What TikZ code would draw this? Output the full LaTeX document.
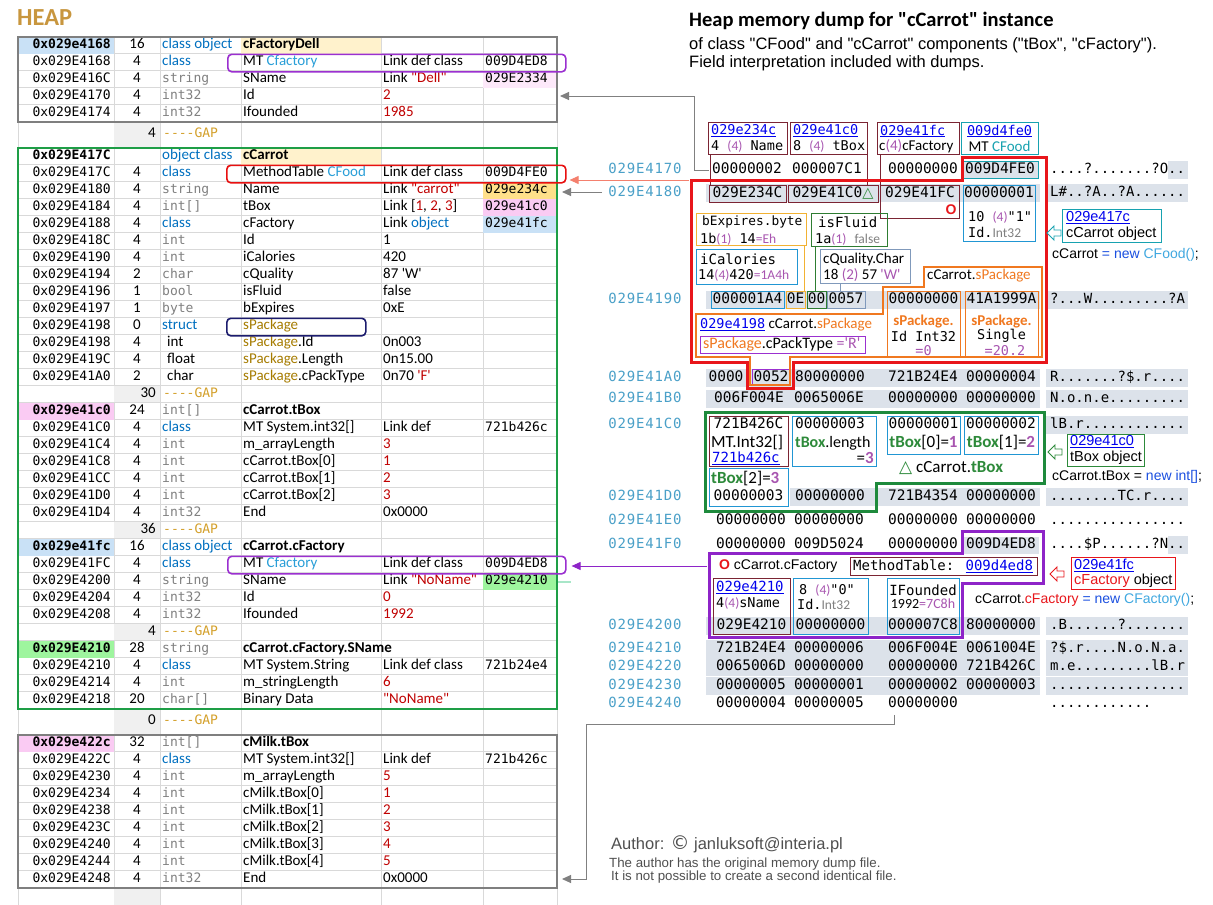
\documentclass[tikz,border=0pt]{standalone}
\usepackage{fontspec}
\setmainfont{Carlito}[Ligatures=TeXOff]
\newfontfamily\mono{DejaVu Sans Mono}
\newfontfamily\dmono[LetterSpace=6]{DejaVu Sans Mono}
\newfontfamily\ari{Liberation Sans}
\newfontfamily\djv{DejaVu Sans}
\usetikzlibrary{arrows.meta}
\definecolor{heapgold}{HTML}{C8963E}
\definecolor{gapgold}{HTML}{D4A02A}
\definecolor{typeblue}{HTML}{0070C0}
\definecolor{typegray}{HTML}{808080}
\definecolor{valred}{HTML}{C00000}
\definecolor{cfblue}{HTML}{2A9FD8}
\definecolor{spgold}{HTML}{A67C00}
\definecolor{cellblue}{HTML}{C9E1F6}
\definecolor{cellpink}{HTML}{FACBF3}
\definecolor{lightpink}{HTML}{FDE9FA}
\definecolor{cellorange}{HTML}{FFE08A}
\definecolor{cellcream}{HTML}{FFF2CC}
\definecolor{cellgreen}{HTML}{9EF59E}
\definecolor{gridgray}{HTML}{D9D9D9}
\definecolor{gapfill}{HTML}{F0F0F0}
\definecolor{bordgray}{HTML}{7F7F7F}
\definecolor{bordgreen}{HTML}{1E9E46}
\definecolor{tpurple}{HTML}{9B30D0}
\definecolor{tred}{HTML}{E81010}
\definecolor{navy}{HTML}{1C1C6E}
\definecolor{maroon}{HTML}{7B2433}
\definecolor{linkblue}{HTML}{0000EE}
\definecolor{magen}{HTML}{A855B0}
\definecolor{tealc}{HTML}{17A2B0}
\definecolor{boxblue}{HTML}{2196D3}
\definecolor{boxyellow}{HTML}{F2B233}
\definecolor{boxgreen}{HTML}{2E7D32}
\definecolor{boxslate}{HTML}{8099BB}
\definecolor{sporange}{HTML}{F07820}
\definecolor{tboxgreen}{HTML}{2D8A3A}
\definecolor{dumpaddr}{HTML}{4AA0C8}
\definecolor{dumpbg}{HTML}{DCE2EA}
\definecolor{codeblue}{HTML}{1A4FE0}
\definecolor{codelight}{HTML}{40A8E0}
\definecolor{authgray}{HTML}{505050}
\definecolor{arrgray}{HTML}{808080}
\definecolor{salmon}{HTML}{F4806E}
\definecolor{bigred}{HTML}{E8161B}
\definecolor{bigpurple}{HTML}{8E24C8}
\definecolor{biggreen}{HTML}{1E8A3C}
\definecolor{stubgreen}{HTML}{A8E6C8}

\newcommand\fsz[1]{\fontsize{#1}{#1}\selectfont}
\newcommand\tb[1]{\textcolor{typeblue}{#1}}
\newcommand\tg[1]{{\mono\fsz{13}\color{typegray}#1}}
\newcommand\vr[1]{\textcolor{valred}{#1}}
\newcommand\spk[1]{\textcolor{spgold}{#1}}
\newcommand\lb[1]{\textcolor{cfblue}{#1}}
\newcommand\lnk[1]{\textcolor{linkblue}{\underline{#1}}}
\newcommand\mg[1]{\textcolor{magen}{#1}}
\newcommand\pr[1]{\textcolor{magen}{\rmfamily #1}}
\newcommand\tbx[1]{\textcolor{tboxgreen}{\textbf{#1}}}
\newcommand\pq[1]{\textcolor{magen}{\textbf{#1}}}
\newcommand\so[1]{\textcolor{sporange}{#1}}
\newcommand\tri{{\djv\bfseries\textcolor{tboxgreen}{△}}}
% one row of the heap table
\newcommand\trow[8]{%
  \node[tadr] (a#1) at (111,#2) {#3};
  \node[tsz] (s#1) at (137,#2) {#4};
  \node[ttxt] (t#1) at (162,#2) {#5};
  \node[ttxt] (n#1) at (243,#2) {#6};
  \node[ttxt] (v#1) at (383,#2) {#7};
  \node[tadr,anchor=west] (x#1) at (485,#2) {#8};}
\newcommand\tgap[3]{%
  \node[tsz,anchor=east] (gs#1) at (156,#2) {#3};
  \node[tadr,anchor=west,text=gapgold] (gt#1) at (163,#2) {----GAP};}
% hollow pointer left of a label box
\newcommand\harr[3]{\draw[#1,line width=0.9pt,line join=miter] (#2,#3) -- ++(7,-7) -- ++(0,4) -- ++(7,0) -- ++(0,6) -- ++(-7,0) -- ++(0,4) -- cycle;}
% ascii column of the dump
\newcommand\asc[3]{\node[ascs] (asc#1) at (1050,#2) {#3};}

\begin{document}
\begin{tikzpicture}[x=1pt,y=-1pt,
  gline/.style={draw=gridgray,line width=0.6pt},
  tadr/.style={font=\mono\fsz{13},anchor=east,inner sep=0,text height=9.5pt,text depth=2.5pt},
  tsz/.style={font=\fsz{15},inner sep=0,text height=10pt,text depth=3pt},
  ttxt/.style={font=\fsz{15},anchor=west,inner sep=0,text height=10pt,text depth=3pt},
  tblk/.style={line width=2pt},
  rbox/.style={draw=#1,rounded corners=4pt,line width=1.6pt,inner sep=0,anchor=north west},
  hex/.style={font=\mono\fsz{14.5},inner sep=0,text height=10.5pt,text depth=3pt},
  hbox/.style={hex,draw=#1,line width=1pt},
  dadr/.style={font=\dmono\fsz{14},text=dumpaddr,inner sep=0,text height=10.5pt,text depth=3pt},
  ascs/.style={font=\mono\fsz{14},anchor=west,inner sep=0,text height=10.5pt,text depth=3pt},
  abox/.style={draw=#1,line width=1pt,inner sep=0,anchor=north west},
  atx/.style={font=\mono\fsz{13.5},anchor=west,inner sep=0},
  ctx/.style={font=\fsz{15},anchor=west,inner sep=0},
  rtx/.style={font=\ari\fsz{14.5},anchor=west,inner sep=0},
  arr/.style={-{Triangle[length=9pt,width=8pt]},line width=1pt},
  big/.style={line width=3pt,line join=miter}]
\useasboundingbox (0,0) rectangle (1213,905);
\fill[white] (0,0) rectangle (1213,905);

% ---------------- heap table
\foreach \x in {18,114,160,241,381,483,557} \draw[gline] (\x,36.5) -- (\x,905);
\foreach \k in {0,...,5} \draw[gline] (18,{36.5+17*\k}) -- (557,{36.5+17*\k});
\foreach \k in {0,...,33} \draw[gline] (18,{147.5+17*\k}) -- (557,{147.5+17*\k});
\foreach \k in {0,...,9} \draw[gline] (18,{734.5+17*\k}) -- (557,{734.5+17*\k});
\foreach \ya/\yb in {121.5/147.5,385.5/402.5,521.5/538.5,623.5/640.5,708.5/734.5,887.5/905}
  \fill[gapfill] (114.3,\ya+0.3) rectangle (159.7,\yb-0.3);
\fill[cellblue] (18,36.5) rectangle (114,53.5);
\fill[cellcream] (241,36.5) rectangle (381,53.5);
\fill[lightpink] (483,70.5) rectangle (557,87.5);
\fill[cellcream] (241,147.5) rectangle (381,164.5);
\fill[cellorange] (483,181.5) rectangle (557,198.5);
\fill[cellpink] (483,198.5) rectangle (557,215.5);
\fill[cellblue] (483,215.5) rectangle (557,232.5);
\fill[cellpink] (18,402.5) rectangle (114,419.5);
\fill[cellblue] (18,538.5) rectangle (114,555.5);
\fill[cellgreen] (483,572.5) rectangle (557,589.5);
\fill[cellgreen] (18,640.5) rectangle (114,657.5);
\fill[cellpink] (18,734.5) rectangle (114,751.5);

\node[font=\bfseries\fsz{24.5},text=heapgold,anchor=west,inner sep=0] (heap) at (17,18) {HEAP};

\trow{A0}{45}{\textbf{0x029e4168}}{16}{\tb{class object}}{\textbf{cFactoryDell}}{}{}
\trow{A1}{62}{0x029E4168}{4}{\tb{class}}{MT \lb{Cfactory}}{Link def class}{009D4ED8}
\trow{A2}{79}{0x029E416C}{4}{\tg{string}}{SName}{Link \vr{"Dell"}}{029E2334}
\trow{A3}{96}{0x029E4170}{4}{\tg{int32}}{Id}{\vr{2}}{}
\trow{A4}{113}{0x029E4174}{4}{\tg{int32}}{Ifounded}{\vr{1985}}{}
\tgap{1}{134}{4}
\trow{B0}{156}{\textbf{0x029E417C}}{}{\tb{object class}}{\textbf{cCarrot}}{}{}
\trow{B1}{173}{0x029E417C}{4}{\tb{class}}{MethodTable \lb{CFood}}{Link def class}{009D4FE0}
\trow{B2}{190}{0x029E4180}{4}{\tg{string}}{Name}{Link \vr{"carrot"}}{029e234c}
\trow{B3}{207}{0x029E4184}{4}{\tg{int[]}}{tBox}{Link [\vr{1}, \vr{2}, \vr{3}]}{029e41c0}
\trow{B4}{224}{0x029E4188}{4}{\tb{class}}{cFactory}{Link \tb{object}}{029e41fc}
\trow{B5}{241}{0x029E418C}{4}{\tg{int}}{Id}{1}{}
\trow{B6}{258}{0x029E4190}{4}{\tg{int}}{iCalories}{420}{}
\trow{B7}{275}{0x029E4194}{2}{\tg{char}}{cQuality}{87 'W'}{}
\trow{B8}{292}{0x029E4196}{1}{\tg{bool}}{isFluid}{false}{}
\trow{B9}{309}{0x029E4197}{1}{\tg{byte}}{bExpires}{0xE}{}
\trow{B10}{326}{0x029E4198}{0}{\tb{struct}}{\spk{sPackage}}{}{}
\trow{B11}{343}{0x029E4198}{4}{\hspace{5pt}int}{\spk{sPackage}.Id}{0n003}{}
\trow{B12}{360}{0x029E419C}{4}{\hspace{5pt}float}{\spk{sPackage}.Length}{0n15.00}{}
\trow{B13}{377}{0x029E41A0}{2}{\hspace{5pt}char}{\spk{sPackage}.cPackType}{0n70 \vr{'F'}}{}
\tgap{2}{394}{30}
\trow{B15}{411}{\textbf{0x029e41c0}}{24}{\tg{int[]}}{\textbf{cCarrot.tBox}}{}{}
\trow{B16}{428}{0x029E41C0}{4}{\tb{class}}{MT System.int32[]}{Link def}{721b426c}
\trow{B17}{445}{0x029E41C4}{4}{\tg{int}}{m\_arrayLength}{\vr{3}}{}
\trow{B18}{462}{0x029E41C8}{4}{\tg{int}}{cCarrot.tBox[0]}{\vr{1}}{}
\trow{B19}{479}{0x029E41CC}{4}{\tg{int}}{cCarrot.tBox[1]}{\vr{2}}{}
\trow{B20}{496}{0x029E41D0}{4}{\tg{int}}{cCarrot.tBox[2]}{\vr{3}}{}
\trow{B21}{513}{0x029E41D4}{4}{\tg{int32}}{End}{0x0000}{}
\tgap{3}{530}{36}
\trow{B23}{547}{\textbf{0x029e41fc}}{16}{\tb{class object}}{\textbf{cCarrot.cFactory}}{}{}
\trow{B24}{564}{0x029E41FC}{4}{\tb{class}}{MT \lb{Cfactory}}{Link def class}{009D4ED8}
\trow{B25}{581}{0x029E4200}{4}{\tg{string}}{SName}{Link \vr{"NoName"}}{029e4210}
\trow{B26}{598}{0x029E4204}{4}{\tg{int32}}{Id}{\vr{0}}{}
\trow{B27}{615}{0x029E4208}{4}{\tg{int32}}{Ifounded}{\vr{1992}}{}
\tgap{4}{632}{4}
\trow{B29}{649}{\textbf{0x029E4210}}{28}{\tg{string}}{\textbf{cCarrot.cFactory.SName}}{}{}
\trow{B30}{666}{0x029E4210}{4}{\tb{class}}{MT System.String}{Link def class}{721b24e4}
\trow{B31}{683}{0x029E4214}{4}{\tg{int}}{m\_stringLength}{\vr{6}}{}
\trow{B32}{700}{0x029E4218}{20}{\tg{char[]}}{Binary Data}{\vr{"NoName"}}{}
\tgap{5}{721}{0}
\trow{C0}{743}{\textbf{0x029e422c}}{32}{\tg{int[]}}{\textbf{cMilk.tBox}}{}{}
\trow{C1}{760}{0x029E422C}{4}{\tb{class}}{MT System.int32[]}{Link def}{721b426c}
\trow{C2}{777}{0x029E4230}{4}{\tg{int}}{m\_arrayLength}{\vr{5}}{}
\trow{C3}{794}{0x029E4234}{4}{\tg{int}}{cMilk.tBox[0]}{\vr{1}}{}
\trow{C4}{811}{0x029E4238}{4}{\tg{int}}{cMilk.tBox[1]}{\vr{2}}{}
\trow{C5}{828}{0x029E423C}{4}{\tg{int}}{cMilk.tBox[2]}{\vr{3}}{}
\trow{C6}{845}{0x029E4240}{4}{\tg{int}}{cMilk.tBox[3]}{\vr{4}}{}
\trow{C7}{862}{0x029E4244}{4}{\tg{int}}{cMilk.tBox[4]}{\vr{5}}{}
\trow{C8}{879}{0x029E4248}{4}{\tg{int32}}{End}{0x0000}{}

\draw[tblk,bordgray] (18,36.5) rectangle (557,121.5);
\draw[tblk,bordgreen] (18,147.5) rectangle (557,708.5);
\draw[tblk,bordgray] (18,734.5) rectangle (557,887.5);
\node[rbox=tpurple,minimum width=338,minimum height=17.5] (mtDell) at (227,53.5) {};
\node[rbox=tred,minimum width=339,minimum height=17.5] (mtCarrot) at (226,164.5) {};
\node[rbox=navy,minimum width=139,minimum height=17.5] (stPkg) at (226,317.5) {};
\node[rbox=tpurple,minimum width=338,minimum height=17.5] (mtFac) at (227,555.5) {};

% ---------------- heading
\node[anchor=west,font=\bfseries\fsz{20.5},inner sep=0] (ttl) at (689,21) {Heap memory dump for "cCarrot" instance};
\node[anchor=west,font=\ari\fsz{16.5},inner sep=0] (sub1) at (689,45) {of class "CFood" and "cCarrot" components ("tBox", "cFactory").};
\node[anchor=west,font=\ari\fsz{16.5},inner sep=0] (sub2) at (689,63) {Field interpretation included with dumps.};

% ---------------- hex dump
\foreach \y in {193,300,378,399,626,649,667,686} \fill[dumpbg] (706,{\y-9}) rectangle (1040,{\y+9});
\fill[dumpbg] (790,488) rectangle (1040,506);
\foreach \y in {193,300,378,399,425,497,626,649,667,686} \fill[dumpbg] (1046,{\y-9}) rectangle (1188,{\y+9});
\fill[dumpbg] (1168,161) rectangle (1188,179);
\fill[dumpbg] (1168,536) rectangle (1188,554);

\foreach \y/\ad in {170/029E4170,193/029E4180,300/029E4190,378/029E41A0,399/029E41B0,425/029E41C0,497/029E41D0,521/029E41E0,545/029E41F0,626/029E4200,649/029E4210,667/029E4220,686/029E4230,704/029E4240}
  \node[dadr] (d\ad) at (645,\y) {\ad};
\asc{1}{170}{....?.......?O..}
\asc{2}{193}{L\#..?A..?A......}
\asc{3}{300}{?...W.........?A}
\asc{4}{378}{R.......?\$.r....}
\asc{5}{399}{N.o.n.e.........}
\asc{6}{425}{lB.r............}
\asc{7}{497}{........TC.r....}
\asc{8}{521}{................}
\asc{9}{545}{....\$P......?N..}
\asc{10}{626}{.B......?.......}
\asc{11}{649}{?\$.r....N.o.N.a.}
\asc{12}{667}{m.e.........lB.r}
\asc{13}{686}{................}
\asc{14}{704}{............}
\foreach \x/\y/\tx [count=\i] in {747/170/00000002,827/170/000007C1,923/170/00000000,830/378/80000000,923/378/721B24E4,1001/378/00000004,749/399/006F004E,829/399/0065006E,923/399/00000000,1001/399/00000000,830/497/00000000,923/497/721B4354,1001/497/00000000,751/521/00000000,829/521/00000000,923/521/00000000,1001/521/00000000,751/545/00000000,829/545/009D5024,923/545/00000000,1001/626/80000000,751/649/721B24E4,829/649/00000006,923/649/006F004E,1001/649/0061004E,751/667/0065006D,829/667/00000000,923/667/00000000,1001/667/721B426C,751/686/00000005,829/686/00000001,923/686/00000002,1001/686/00000003,751/704/00000004,829/704/00000005,923/704/00000000}
  \node[hex] (hx\i) at (\x,\y) {\tx};

% field boxes above the carrot object
\node[abox=maroon,minimum width=79,minimum height=32] (bName) at (708,122) {};
\node[atx] (bName1) at (711,131) {\lnk{029e234c}};
\node[atx] (bName2) at (711,146) {4 \pr{(4)} Name};
\node[abox=maroon,minimum width=77,minimum height=32] (bTbox) at (790,122) {};
\node[atx] (bTbox1) at (793,131) {\lnk{029e41c0}};
\node[atx] (bTbox2) at (793,146) {8 \pr{(4)} tBox};
\node[abox=maroon,minimum width=82,minimum height=32] (bCfac) at (877,122) {};
\node[atx] (bCfac1) at (880,131) {\lnk{029e41fc}};
\node[ctx] (bCfac2) at (879,146) {c\pr{(4)}cFactory};
\node[abox=tealc,minimum width=77,minimum height=32] (bMT) at (961,122) {};
\node[atx,anchor=center] (bMT1) at (999.5,131) {\lnk{009d4fe0}};
\node[ctx,anchor=center] (bMT2) at (999.5,146) {MT \textcolor{tealc}{CFood}};
\node[hbox=tealc,fill=dumpbg,minimum width=76,minimum height=17] (h4fe0) at (1000,170) {009D4FE0};

\node[hbox=maroon,minimum width=77,minimum height=17] (h234c) at (747.5,193.5) {029E234C};
\node[hbox=maroon,minimum width=90,minimum height=17] (h41c0) at (833,193.5) {029E41C0\tri};
\node[abox=maroon,minimum width=79,minimum height=33] (h41fc) at (880,185) {};
\node[hex] (h41fct) at (920,193.5) {029E41FC};
\node[font=\ari\bfseries\fsz{14},text=bigred,inner sep=0] (h41fcO) at (951,210) {O};
\node[abox=boxblue,minimum width=72,minimum height=56] (h0001) at (963,185) {};
\node[hex] (h0001t) at (999,193.5) {00000001};
\node[atx] (h0001a) at (968,217) {10 \pr{(4)}"1"};
\node[atx] (h0001b) at (968,232) {Id.\textcolor{typegray}{\rmfamily Int32}};
\coordinate (cName) at ([xshift=2pt]bName.south west);
\coordinate (cTbox) at ([xshift=-1pt]bTbox.south east);
\coordinate (cCfac) at ([xshift=3pt]bCfac.south west);
\draw[maroon,line width=1pt] (cName) -- (cName |- h234c.north);
\draw[maroon,line width=1pt] (cTbox) -- (cTbox |- h41c0.north);
\draw[maroon,line width=1pt] (cCfac) -- (cCfac |- h41fc.north);

\node[abox=boxyellow,minimum width=110,minimum height=32] (bExp) at (696,213) {};
\node[atx,font=\mono\fsz{12.8}] (bExp1) at (702,222) {bExpires.byte};
\node[atx] (bExp2) at (700,239) {1b\pr{(1)} 14\pr{=Eh}};
\node[abox=boxgreen,minimum width=76,minimum height=33] (bFluid) at (811,213) {};
\node[atx,font=\mono\fsz{14}] (bFluid1) at (818,222) {isFluid};
\node[atx] (bFluid2) at (815,239) {1a\pr{(1)} \textcolor{typegray}{\rmfamily false}};
\node[abox=boxblue,minimum width=101,minimum height=35] (bCal) at (696,249) {};
\node[atx,font=\mono\fsz{14}] (bCal1) at (700,259) {iCalories};
\node[atx] (bCal2) at (698,275) {14\pr{(4)}420\pr{=1A4h}};
\node[abox=boxslate,minimum width=90,minimum height=34] (bQual) at (820,249) {};
\node[ctx] (bQual1) at (823,259) {cQuality.Char};
\node[ctx] (bQual2) at (823,275) {18 \pr{(2)} 57 \pr{'W'}};

\node[hbox=boxblue,minimum width=73,minimum height=17] (h01a4) at (747.5,300) {000001A4};
\node[hbox=boxyellow,minimum width=19,minimum height=17] (h0E) at (795.5,300) {0E};
\node[hbox=boxgreen,minimum width=19,minimum height=17] (h00) at (816.5,300) {00};
\node[hbox=boxslate,minimum width=38,minimum height=17] (h0057) at (846,300) {0057};
\coordinate (cExp) at ([xshift=-3pt]bExp.south east);
\coordinate (cFluid) at ([xshift=4pt]bFluid.south west);
\coordinate (cQual) at ([xshift=20pt]bQual.south west);
\draw[boxyellow,line width=1pt] (cExp) -- (cExp |- h0E.north);
\draw[boxgreen,line width=1pt] (cFluid) -- (cFluid |- h00.north);
\draw[boxslate,line width=0.8pt] (cQual) -- (cQual |- h0057.north);

% sPackage
\node[ctx] (spkTop) at (927,276) {cCarrot.\so{sPackage}};
\node[abox=sporange,minimum width=73,minimum height=66] (bId) at (887,291) {};
\node[hex] (bId0) at (923.5,300) {00000000};
\node[font=\bfseries\fsz{15},text=sporange,inner sep=0] (bId1) at (923.5,322) {sPackage.};
\node[font=\mono\fsz{13.5},inner sep=0] (bId2) at (923.5,336) {Id Int32};
\node[font=\mono\fsz{13.5},text=magen,inner sep=0] (bId3) at (923.5,351) {=0};
\node[abox=sporange,minimum width=73,minimum height=66] (bSgl) at (965,291) {};
\node[hex] (bSgl0) at (1001.5,300) {41A1999A};
\node[font=\bfseries\fsz{15},text=sporange,inner sep=0] (bSgl1) at (1001.5,322) {sPackage.};
\node[font=\mono\fsz{13.5},inner sep=0] (bSgl2) at (1001.5,336) {Single};
\node[font=\mono\fsz{13.5},text=magen,inner sep=0] (bSgl3) at (1005,351) {=20.2};
\node[ctx] (spkLbl) at (700,325) {{\mono\fsz{13.5}\lnk{029e4198}} cCarrot.\so{sPackage}};
\node[abox=tpurple,minimum width=165,minimum height=17] (bPT) at (700,336) {};
\node[ctx,font=\fsz{16}] (bPT1) at (703,344.5) {\so{sPackage}.cPackType \mg{='R'}};
\node[hex] (h41a0a) at (726,378) {0000};
\node[hbox=tpurple,minimum width=38,minimum height=16] (h0052) at (771,377.5) {0052};
\draw[sporange,line width=1.2pt] (924,267) -- (1042,267) -- (1042,357) -- (790,357) -- (790,385) -- (750,385) -- (750,357) -- (696,357) -- (696,314) -- (883,314) -- (883,287) -- (924,287) -- cycle;
\draw[big,bigred] (962,157) -- (1046,157) -- (1046,362) -- (793,362) -- (793,388) -- (747,388) -- (747,362) -- (691,362) -- (691,180) -- (962,180) -- cycle;

\node[abox=tealc,minimum width=99,minimum height=33] (b417c) at (1062,209) {};
\node[rtx] (b417c1) at (1066,217.5) {\lnk{029e417c}};
\node[rtx] (b417c2) at (1066,233.5) {cCarrot object};
\harr{tealc}{1047}{233}
\node[rtx,font=\ari\fsz{14}] (newFood) at (1052,255) {cCarrot \textcolor{codeblue}{= new} \textcolor{codelight}{CFood()};};

% tBox object
\draw[big,biggreen] (705,412) -- (1044,412) -- (1044,483) -- (876,483) -- (876,511) -- (705,511) -- cycle;
\node[abox=maroon,minimum width=79,minimum height=50] (hMT) at (709,416) {};
\node[hex] (hMT0) at (748.5,425) {721B426C};
\node[ctx,font=\fsz{17}] (hMT1) at (711,443) {MT.Int32[]};
\node[atx,font=\mono\fsz{14}] (hMT2) at (712,458) {\lnk{721b426c}};
\node[abox=boxblue,minimum width=84,minimum height=50] (hLen) at (792,416) {};
\node[hex] (hLen0) at (830,425) {00000003};
\node[ctx,font=\fsz{16}] (hLen1) at (795,443) {\tbx{tBox}.length};
\node[ctx,font=\fsz{17},anchor=east] (hLen2) at (874,458) {=\pq{3}};
\node[abox=boxblue,minimum width=73,minimum height=38] (hB0) at (887,416) {};
\node[hex] (hB00) at (923.5,425) {00000001};
\node[ctx,font=\fsz{17},anchor=center] (hB01) at (923.5,443) {\tbx{tBox}[0]=\pq{1}};
\node[abox=boxblue,minimum width=74,minimum height=38] (hB1) at (964,416) {};
\node[hex] (hB10) at (1001,425) {00000002};
\node[ctx,font=\fsz{17},anchor=center] (hB11) at (1001,443) {\tbx{tBox}[1]=\pq{2}};
\node[ctx,font=\fsz{17}] (tboxLbl) at (899,468) {\tri\ cCarrot.\tbx{tBox}};
\node[abox=boxblue,minimum width=79,minimum height=38] (hB2) at (709,468) {};
\node[ctx,font=\fsz{17}] (hB21) at (711,479) {\tbx{tBox}[2]=\pq{3}};
\node[hex] (hB20) at (748.5,497) {00000003};
\node[abox=tboxgreen,minimum width=77,minimum height=32] (b41c0) at (1067,434) {};
\node[rtx] (b41c01) at (1070,442) {\lnk{029e41c0}};
\node[rtx] (b41c02) at (1070,458) {tBox object};
\harr{tboxgreen}{1048}{452}
\node[rtx,font=\ari\fsz{14}] (newInt) at (1052,477) {cCarrot.tBox = \textcolor{codeblue}{new int[]};};

% cFactory object
\node[hex,fill=dumpbg,minimum width=76,minimum height=17] (h4ed8) at (1001,545) {009D4ED8};
\draw[big,bigpurple] (962,531) -- (1043,531) -- (1043,583) -- (962,583) -- (962,637) -- (709,637) -- (709,553) -- (962,553) -- cycle;
\node[rtx,font=\ari\fsz{14}] (facLbl) at (719,566) {\textcolor{bigred}{\textbf{O}} cCarrot.cFactory};
\node[abox=maroon,minimum width=187,minimum height=18] (bMTf) at (850,557) {};
\node[atx,font=\mono\fsz{14}] (bMTf1) at (853,566) {MethodTable: \lnk{009d4ed8}};
\node[abox=maroon,minimum width=77,minimum height=56] (hsN) at (713,578) {};
\node[atx,font=\mono\fsz{14}] (hsN1) at (716,587) {\lnk{029e4210}};
\node[atx] (hsN2) at (716,603) {4\pr{(4)}sName};
\node[hex] (hsN0) at (751.5,626) {029E4210};
\node[abox=boxblue,minimum width=75,minimum height=56] (hIdf) at (793,578) {};
\node[atx] (hIdf1) at (799,590) {8 \pr{(4)}"0"};
\node[atx] (hIdf2) at (797,604) {Id.\textcolor{typegray}{\rmfamily Int32}};
\node[hex] (hIdf0) at (830.5,626) {00000000};
\node[abox=boxblue,minimum width=72,minimum height=56] (hIF) at (887,578) {};
\node[atx,font=\mono\fsz{14},anchor=center] (hIF1) at (923,590) {IFounded};
\node[ctx,font=\fsz{14},anchor=center] (hIF2) at (923,604) {1992\mg{=7C8h}};
\node[hex] (hIF0) at (923,626) {000007C8};
\node[abox=bigred,minimum width=104,minimum height=32] (b41fc) at (1071,557) {};
\node[rtx] (b41fc1) at (1074,565) {\lnk{029e41fc}};
\node[rtx] (b41fc2) at (1074,581) {\textcolor{bigred}{cFactory} object};
\harr{bigred}{1050}{574}
\node[rtx,font=\ari\fsz{14}] (newFac) at (975,600) {cCarrot.\textcolor{bigred}{cFactory} \textcolor{codeblue}{= new} \textcolor{codelight}{CFactory()};};

% ---------------- links back to the table
\coordinate (eDell) at (560,96);
\draw[arr,arrgray] ([xshift=-3pt]hx1.west) -- ++(-14,0) |- (eDell);
\coordinate (sRed) at (689,180);
\draw[arr,salmon,shorten >=3pt] (sRed) -- (sRed -| mtCarrot.east);
\coordinate (sName) at (602,192);
\coordinate (eName) at (562,192);
\draw[arr,arrgray] (sName) -- (eName);
\coordinate (sFac) at (707,566);
\draw[arr,bigpurple,shorten >=5pt] (sFac) -- (sFac -| mtFac.east);
\coordinate (stA) at (558,582);
\coordinate (stB) at (571,582);
\draw[stubgreen,line width=1.2pt] (stA) -- (stB);
\coordinate (eEnd) at (562,879);
\draw[arr,arrgray] ([xshift=-29pt,yshift=-4pt]hx36.south) -- ++(0,10) -| ([xshift=24pt]eEnd) -- (eEnd);

% ---------------- author
\node[anchor=west,font=\ari\fsz{16.5},text=authgray,inner sep=0] (auth) at (611,844) {Author: {\djv\fsz{19}©} janluksoft@interia.pl};
\node[anchor=west,font=\ari\fsz{13.3},text=authgray,inner sep=0] (note1) at (609,864) {The author has the original memory dump file.};
\node[anchor=west,font=\ari\fsz{13.3},text=authgray,inner sep=0] (note2) at (611,877) {It is not possible to create a second identical file.};
\end{tikzpicture}
\end{document}
